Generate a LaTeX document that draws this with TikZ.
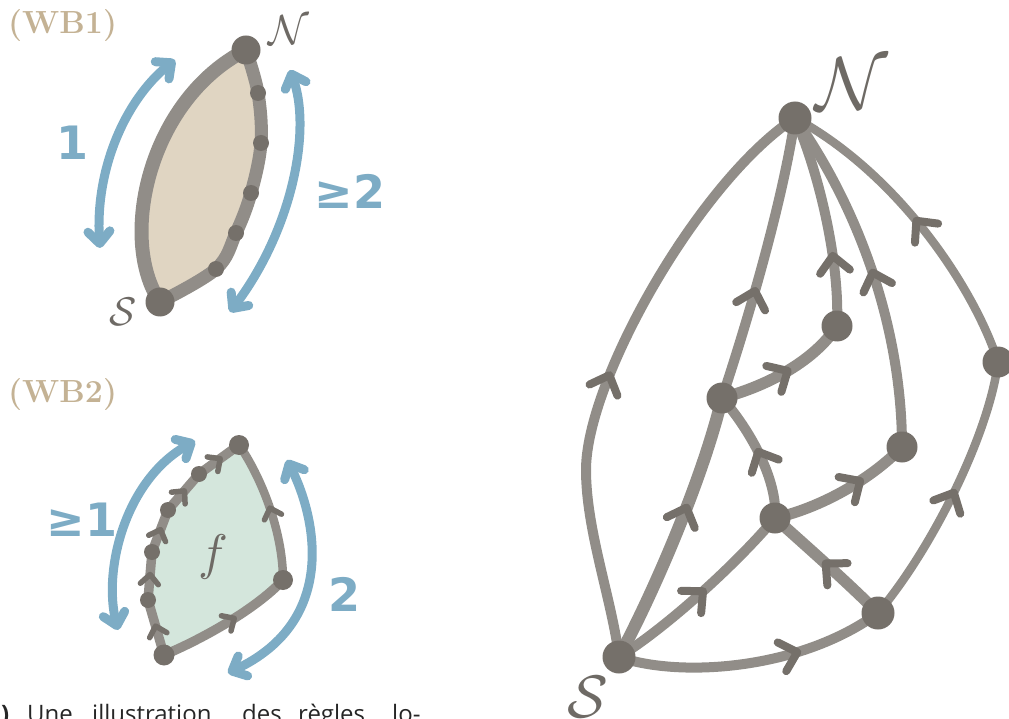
\documentclass[tikz,border=0pt]{standalone}
\usepackage{fontspec}
\newfontfamily\handfont{DejaVu Sans}
\newfontfamily\capfont{Open Sans}
\usetikzlibrary{arrows.meta,decorations.markings}
\definecolor{edgec}{HTML}{918D88}
\definecolor{nodec}{HTML}{75706A}
\definecolor{bluec}{HTML}{7DACC5}
\definecolor{tanfill}{HTML}{E0D5C2}
\definecolor{greenfill}{HTML}{D4E6DC}
\definecolor{tanlabel}{HTML}{C4B294}
\definecolor{labc}{HTML}{6E6A65}
\pgfdeclarelayer{bg}
\pgfsetlayers{bg,main}
\tikzset{
  vtx/.style={circle, fill=nodec, inner sep=0pt, minimum size=31pt},
  dotv/.style={circle, fill=nodec, inner sep=0pt, minimum size=16pt},
  edge/.style={draw=edgec, line width=10pt, line cap=round},
  edgeb/.style={draw=edgec, line width=14pt, line cap=round, line join=round},
  edges/.style={draw=edgec, line width=9.5pt, line cap=round, line join=round},
  chev/.style={draw=nodec, line width=8pt, line cap=round, line join=round},
  schev/.style={draw=nodec, line width=5.5pt, line cap=round, line join=round},
  arrowat/.style={postaction={decorate, decoration={markings,
      mark=at position #1 with {\draw[chev] (-14,-15) -- (2,0) -- (-14,15);}}}},
  sarrowat/.style={postaction={decorate, decoration={markings,
      mark=at position #1 with {\draw[schev] (-8,-9) -- (1.5,0) -- (-8,9);}}}},
  bluearr/.style={draw=bluec, line width=9pt, line cap=round,
      {Straight Barb[length=12pt,width=22pt,round]}-{Straight Barb[length=12pt,width=22pt,round]}},
  handlab/.style={text=bluec, inner sep=0pt, font=\handfont\bfseries\fontsize{46}{46}\selectfont},
  wblab/.style={text=tanlabel, inner sep=0pt, anchor=west, font=\bfseries\fontsize{32}{32}\selectfont},
  letlab/.style={text=labc, inner sep=0pt},
  capw/.style={anchor=base west, inner sep=0pt, text=black!85, font=\capfont\fontsize{24}{24}\selectfont}
}
\begin{document}
\begin{tikzpicture}[x=1pt,y=-1pt]
\useasboundingbox (0,0) rectangle (1009,719);

% ================= right graph =================
\node[vtx, minimum size=33pt] (N) at (795,118) {};
\node[vtx, minimum size=33pt] (S) at (619,657) {};
\node[vtx] (A) at (722,398) {};
\node[vtx] (B) at (837,326) {};
\node[vtx] (C) at (902,447) {};
\node[vtx] (D) at (775,518) {};
\node[vtx, minimum size=33pt] (E) at (878,613) {};
\node[vtx] (F) at (998,362) {};
\coordinate (M) at (586,470);

\node[letlab, scale=7.5] (Nlab) at (852,84) {$\mathcal{N}$};
\node[letlab, scale=6] (Slab) at (588,697) {$\mathcal{S}$};

\begin{pgfonlayer}{bg}
\draw[edge, arrowat=0.47] (S.center) .. controls (612,600) and (586,530) .. (M)
   .. controls (586,380) and (700,180) .. (N.center);
\draw[edge, line width=12.5pt, arrowat=0.58] (S.center) .. controls (660,580) and (705,470) .. (A.center);
\draw[edge, arrowat=0.38] (A.center) .. controls (748,320) and (783,200) .. (N.center);
\draw[edge, line width=11.5pt, arrowat=0.5] (A.center) .. controls (770,385) and (815,360) .. (B.center);
\draw[edge, arrowat=0.32] (B.center) .. controls (840,260) and (818,170) .. (N.center);
\draw[edge, arrowat=0.5] (C.center) .. controls (902,330) and (860,210) .. (N.center);
\draw[edge, line width=8.5pt, arrowat=0.5] (F.center) .. controls (975,290) and (900,175) .. (N.center);
\draw[edge, line width=8.5pt, arrowat=0.5] (E.center) .. controls (935,545) and (990,430) .. (F.center);
\draw[edge, arrowat=0.66] (S.center) .. controls (680,678) and (800,670) .. (E.center);
\draw[edge, arrowat=0.5] (S.center) .. controls (670,625) and (740,560) .. (D.center);
\draw[edge, arrowat=0.5] (D.center) .. controls (778,480) and (750,430) .. (A.center);
\draw[edge, line width=11pt, arrowat=0.62] (D.center) .. controls (820,508) and (870,480) .. (C.center);
\draw[edge, line width=11.5pt, arrowat=0.5] (E.center) .. controls (845,580) and (805,545) .. (D.center);
\end{pgfonlayer}

% ================= WB1 =================
\node[wblab] (wb1) at (8,26) {(WB1)};
\node[vtx, minimum size=29pt] (N1) at (246,50) {};
\node[vtx, minimum size=29pt] (S1) at (160,302) {};
\node[dotv] (d1) at (258,93) {};
\node[dotv] (d2) at (261,143) {};
\node[dotv] (d3) at (251,193) {};
\node[dotv] (d4) at (236,233) {};
\node[dotv] (d5) at (216,269) {};
\node[letlab, scale=4.2] (N1lab) at (289,30) {$\mathcal{N}$};
\node[letlab, scale=4] (S1lab) at (123,312) {$\mathcal{S}$};

\begin{pgfonlayer}{bg}
\fill[tanfill] (S1.center) .. controls (118,240) and (148,100) .. (N1.center)
  -- plot[smooth, tension=0.6] coordinates {(N1.center) (d1.center) (d2.center) (d3.center) (d4.center) (d5.center) (S1.center)} -- cycle;
\draw[edgeb] (S1.center) .. controls (118,240) and (148,100) .. (N1.center);
\draw[edgeb, line width=13pt] plot[smooth, tension=0.6] coordinates {(N1.center) (d1.center) (d2.center) (d3.center) (d4.center) (d5.center) (S1.center)};
\end{pgfonlayer}

\coordinate (a1s) at (100,248);
\coordinate (a1e) at (175,60);
\draw[bluearr] (a1s) .. controls (95,170) and (125,100) .. (a1e);
\coordinate (a2s) at (290,70);
\coordinate (a2e) at (230,312);
\draw[bluearr] (a2s) .. controls (312,130) and (292,230) .. (a2e);
\node[handlab] (l1) at (73,143) {1};
\node[handlab] (l2) at (350,191) {≥2};

% ================= WB2 =================
\node[wblab] (wb2) at (8,395) {(WB2)};
\node[vtx, minimum size=20pt] (T2) at (239,445) {};
\node[vtx, minimum size=20pt] (R2) at (283,580) {};
\node[vtx, minimum size=21pt] (B2) at (164,655) {};
\node[dotv] (g4) at (148,600) {};
\node[dotv] (g3) at (152,552) {};
\node[dotv] (g2) at (168,510) {};
\node[dotv] (g1) at (199,474) {};
\node[text=labc, scale=5] (flab) at (213,557) {$f$};

\begin{pgfonlayer}{bg}
\fill[greenfill] plot[smooth, tension=0.6] coordinates {(B2.center) (g4.center) (g3.center) (g2.center) (g1.center) (T2.center)}
  .. controls (260,475) and (283,530) .. (R2.center)
  .. controls (255,610) and (200,640) .. (B2.center) -- cycle;
\draw[edges, sarrowat=0.5] (B2.center) -- (g4.center);
\draw[edges, sarrowat=0.5] (g4.center) -- (g3.center);
\draw[edges, sarrowat=0.5] (g3.center) -- (g2.center);
\draw[edges, sarrowat=0.5] (g2.center) -- (g1.center);
\draw[edges, sarrowat=0.5] (g1.center) -- (T2.center);
\draw[edges, line width=8.5pt, sarrowat=0.5] (R2.center) .. controls (283,530) and (260,475) .. (T2.center);
\draw[edges, sarrowat=0.55] (B2.center) .. controls (200,640) and (255,610) .. (R2.center);
\end{pgfonlayer}

\coordinate (b1s) at (118,630);
\coordinate (b1e) at (195,441);
\draw[bluearr] (b1s) .. controls (103,570) and (125,480) .. (b1e);
\coordinate (b2s) at (287,460);
\coordinate (b2e) at (228,673);
\draw[bluearr] (b2s) .. controls (315,515) and (340,620) .. (b2e);
\node[handlab] (l3) at (82,520) {≥1};
\node[handlab] (l4) at (344,594) {2};

% ================= caption (cut off) =================
\node[capw, font=\capfont\bfseries\fontsize{24}{24}\selectfont] (w0) at (1,722) {)};
\node[capw] (w1) at (27,722) {Une};
\node[capw] (w2) at (92,722) {illustration};
\node[capw] (w3) at (242,722) {des};
\node[capw] (w4) at (298,722) {règles};
\node[capw] (w5) at (392,722) {lo-};
\end{tikzpicture}
\end{document}
